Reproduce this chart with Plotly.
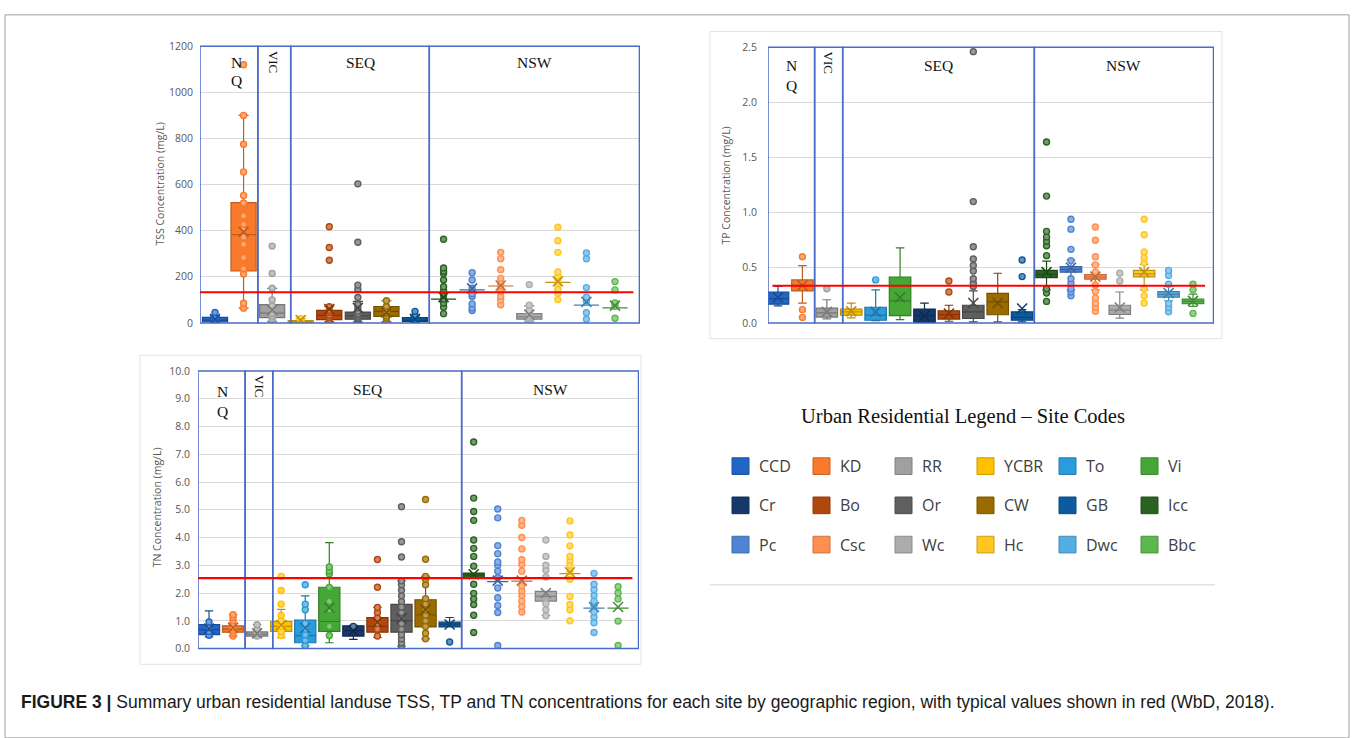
import plotly.graph_objects as go

W, H = 1356, 738

# ---------------- data ----------------
SITES = ["CCD", "KD", "RR", "YCBR", "To", "Vi", "Cr", "Bo", "Or", "CW", "GB",
         "Icc", "Pc", "Csc", "Wc", "Hc", "Dwc", "Bbc"]
SITE_REGION = ["NQ", "NQ", "VIC", "SEQ", "SEQ", "SEQ", "SEQ", "SEQ", "SEQ", "SEQ", "SEQ",
               "NSW", "NSW", "NSW", "NSW", "NSW", "NSW", "NSW"]
COLORS = ["#2166C4", "#F97A2B", "#A0A0A0", "#FFC000", "#2A9CDB", "#45A836",
          "#16386B", "#B0470C", "#5F5F5F", "#9A6B00", "#0E5A9E", "#2A6321",
          "#4E84D4", "#FF8F4F", "#ACACAC", "#FFC61E", "#55ADE6", "#5CB84E"]
REGIONS = ["NQ", "VIC", "SEQ", "NSW"]

# TSS (mg/L)
TSS_SITES = ["CCD", "KD", "RR", "YCBR", "Bo", "Or", "CW", "GB",
             "Icc", "Pc", "Csc", "Wc", "Hc", "Dwc", "Bbc"]
TSS_Q1 = [5, 225, 23, 3, 14, 16, 28, 7, 103, 143, 160, 16, 176, 77, 65]
TSS_MED = [12, 383, 42, 6, 33, 30, 50, 12, 103, 143, 160, 26, 176, 77, 65]
TSS_Q3 = [24, 522, 79, 10, 54, 47, 71, 23, 103, 143, 160, 40, 176, 77, 65]
TSS_LO = [3, 64, 7, 1, 4, 3, 4, 2, 103, 143, 160, 8, 176, 77, 65]
TSS_HI = [30, 900, 150, 18, 70, 93, 96, 30, 103, 143, 160, 74, 176, 77, 65]
TSS_MEAN = [17, 395, 56, 12, 60, 65, 45, 18, 112, 150, 162, 36, 180, 91, 75]
TSS_POINTS = [
    [3, 6, 9, 12, 16, 22, 28, 45],
    [64, 85, 212, 235, 283, 341, 372, 405, 428, 464, 520, 553, 655, 775, 900, 1120],
    [7, 18, 30, 42, 58, 75, 100, 150, 214, 333],
    [1, 3, 6, 9, 12, 18],
    [4, 14, 24, 33, 45, 54, 70, 272, 327, 417],
    [3, 10, 18, 25, 33, 40, 50, 65, 80, 110, 145, 164, 350, 603],
    [4, 20, 30, 42, 50, 62, 71, 96],
    [2, 5, 8, 12, 16, 22, 30, 50],
    [40, 68, 86, 103, 122, 140, 157, 186, 214, 224, 238, 363],
    [54, 65, 82, 115, 126, 150, 186, 218],
    [79, 100, 115, 136, 160, 172, 193, 231, 278, 306],
    [8, 16, 24, 32, 40, 55, 77, 166],
    [101, 129, 146, 170, 190, 203, 221, 306, 356, 415],
    [16, 44, 95, 111, 153, 278, 303],
    [20, 72, 86, 143, 179],
]
TSS_TYPICAL = 133

# TP (mg/L)
TP_SITES = SITES
TP_Q1 = [.17, .29, .053, .07, .024, .065, .005, .035, .04, .074, .024, .41, .46, .396, .077, .417, .233, .175]
TP_MED = [.22, .34, .09, .10, .07, .20, .065, .075, .10, .19, .05, .44, .485, .416, .115, .445, .258, .195]
TP_Q3 = [.28, .39, .134, .125, .142, .415, .125, .11, .16, .267, .10, .476, .51, .437, .16, .476, .284, .216]
TP_LO = [.155, .18, .036, .045, .02, .03, .005, .015, .01, .01, .01, .30, .30, .30, .044, .30, .20, .15]
TP_HI = [.33, .52, .21, .18, .30, .68, .18, .16, .29, .45, .12, .56, .57, .53, .28, .53, .33, .26]
TP_MEAN = [.23, .34, .10, .105, .10, .23, .065, .085, .18, .18, .13, .46, .50, .42, .14, .46, .27, .20]
TP_POINTS = [
    [], [.05, .12, .60], [.31], [], [.39], [], [], [.28, .38],
    [.33, .36, .40, .47, .52, .58, .69, 1.10, 2.46], [], [.42, .57],
    [.195, .27, .31, .61, .70, .74, .78, .83, 1.15, 1.64],
    [.245, .28, .31, .36, .40, .565, .667, .85, .94],
    [.106, .145, .18, .225, .284, .343, .46, .526, .60, .75, .87],
    [.38, .45],
    [.18, .245, .31, .545, .59, .644, .80, .94],
    [.10, .14, .175, .35, .43, .476],
    [.086, .30, .35],
]
TP_TYPICAL = 0.337

# TN (mg/L)
TN_SITES = SITES
TN_Q1 = [.50, .59, .45, .62, .21, .62, .45, .59, .59, .78, .78, 2.55, 2.41, 2.43, 1.71, 2.70, 1.46, 1.46]
TN_MED = [.68, .70, .52, .80, .47, .975, .65, .80, 1.01, 1.21, .88, 2.65, 2.41, 2.43, 1.88, 2.70, 1.46, 1.46]
TN_Q3 = [.86, .82, .60, .975, 1.03, 2.21, .82, 1.12, 1.59, 1.76, .95, 2.72, 2.41, 2.43, 2.06, 2.70, 1.46, 1.46]
TN_LO = [.42, .45, .42, .39, .10, .21, .33, .40, .09, .35, .78, 2.55, 2.41, 2.43, 1.20, 2.70, 1.46, 1.46]
TN_HI = [1.36, 1.22, .86, 1.41, 1.90, 3.82, .84, 1.48, 2.44, 2.60, 1.12, 2.72, 2.41, 2.43, 2.06, 2.70, 1.46, 1.46]
TN_MEAN = [.72, .75, .55, .85, .74, 1.47, .63, .95, 1.09, 1.41, .87, 2.68, 2.45, 2.45, 2.00, 2.75, 1.50, 1.50]
TN_POINTS = [
    [.48, .62, .75, .96],
    [.45, .55, .65, .75, .90, 1.00, 1.12, 1.22],
    [.45, .55, .70, .86],
    [.47, .62, .80, 1.00, 1.19, 1.60, 2.09, 2.60],
    [.10, .30, .50, .70, .90, 1.40, 1.60, 2.30],
    [.47, .80, 1.40, 1.70, 2.20, 2.70, 2.80, 2.94],
    [.80],
    [.45, .70, .90, 1.10, 1.30, 1.48, 2.21, 3.21],
    [.09, .20, .35, .50, .70, .90, 1.10, 1.30, 1.50, 1.70, 1.90, 2.10, 2.30, 2.44, 3.30, 3.85, 5.11],
    [.35, .55, .80, 1.00, 1.20, 1.40, 1.60, 1.80, 2.30, 2.50, 2.60, 3.22, 5.37],
    [.235],
    [.58, 1.20, 1.59, 1.79, 1.99, 2.32, 2.97, 3.32, 3.61, 3.91, 4.62, 4.94, 5.42, 7.44],
    [.11, 1.30, 1.55, 1.83, 2.18, 2.55, 2.79, 3.00, 3.12, 3.42, 3.71, 4.71, 5.03],
    [1.32, 1.52, 1.71, 1.91, 2.08, 2.26, 2.79, 3.03, 3.20, 3.59, 4.00, 4.44, 4.62],
    [1.18, 1.40, 1.62, 2.58, 2.83, 3.00, 3.32, 3.91],
    [1.00, 1.40, 1.59, 1.88, 2.50, 2.79, 3.00, 3.17, 3.32, 3.70, 4.09, 4.60],
    [.58, .93, 1.14, 1.32, 1.55, 1.71, 1.91, 2.12, 2.32, 2.71],
    [.11, .99, 1.79, 2.00, 2.23],
]
TN_TYPICAL = 2.54

Y_TITLES = ["TSS Concentration (mg/L)", "TP Concentration (mg/L)", "TN Concentration (mg/L)"]
LEGEND_TITLE = "Urban Residential Legend \u2013 Site Codes"
CAPTION_BOLD = "FIGURE 3 |"
CAPTION = " Summary urban residential landuse TSS, TP and TN concentrations for each site by geographic region, with typical values shown in red (WbD, 2018)."


# ---------------- helpers ----------------
def fx(px):
    return px / W


def fy(py):
    return 1 - py / H


def mix(hexc, other, t):
    a = [int(hexc[i:i + 2], 16) for i in (1, 3, 5)]
    b = [int(other[i:i + 2], 16) for i in (1, 3, 5)]
    c = [round(a[k] * (1 - t) + b[k] * t) for k in range(3)]
    return "#%02x%02x%02x" % tuple(c)


REGION_BLUE = "#4A6BC6"
GRID = "#D9D9D9"
TICK_COL = "#595959"

panels = [
    dict(sites=TSS_SITES, q1=TSS_Q1, med=TSS_MED, q3=TSS_Q3, lo=TSS_LO, hi=TSS_HI,
         mean=TSS_MEAN, pts=TSS_POINTS, typ=TSS_TYPICAL, ax="", px=(200, 640), py=(40, 322),
         yr=[0, 1200], dt=200, fmt="d", xr=[-0.525, 14.875], stand=6,
         title=Y_TITLES[0], title_xy=(160, 181), nq_y=(57, 75), nq_dx=0.25, lab_y=57, vic_y=43,
         typ_x=(0.0, 0.985)),
    dict(sites=TP_SITES, q1=TP_Q1, med=TP_MED, q3=TP_Q3, lo=TP_LO, hi=TP_HI,
         mean=TP_MEAN, pts=TP_POINTS, typ=TP_TYPICAL, ax="2", px=(768, 1214), py=(41, 322),
         yr=[0, 2.5], dt=0.5, fmt=".1f", xr=[-0.41, 17.86], stand=10,
         title=Y_TITLES[1], title_xy=(726, 182), nq_y=(60, 80), nq_dx=0.0, lab_y=60, vic_y=43,
         typ_x=(0.01, 0.98)),
    dict(sites=TN_SITES, q1=TN_Q1, med=TN_MED, q3=TN_Q3, lo=TN_LO, hi=TN_HI,
         mean=TN_MEAN, pts=TN_POINTS, typ=TN_TYPICAL, ax="3", px=(198, 639), py=(371, 654),
         yr=[0, 10], dt=1, fmt=".1f", xr=[-0.457, 17.87], stand=7,
         title=Y_TITLES[2], title_xy=(157, 510), nq_y=(392, 412), nq_dx=0.05, lab_y=390, vic_y=373,
         typ_x=(0.0, 0.985)),
]

fig = go.Figure()
shapes = []
annotations = []
layout_axes = {}

for p in panels:
    xa = "x" + p["ax"]
    ya = "y" + p["ax"]
    for i, s in enumerate(p["sites"]):
        col = COLORS[SITES.index(s)]
        dark = mix(col, "#000000", 0.25)
        light = mix(col, "#FFFFFF", 0.35)
        fig.add_trace(go.Box(
            x=[i], q1=[p["q1"][i]], median=[p["med"][i]], q3=[p["q3"][i]],
            lowerfence=[p["lo"][i]], upperfence=[p["hi"][i]],
            fillcolor=col, line=dict(color=dark, width=1.2), width=0.88,
            whiskerwidth=0.4, boxpoints=False, xaxis=xa, yaxis=ya,
            showlegend=False, name=s, hoverinfo="skip"))
        if p["pts"][i]:
            fig.add_trace(go.Scatter(
                x=[i] * len(p["pts"][i]), y=p["pts"][i], mode="markers",
                marker=dict(symbol="circle", size=6, color=light,
                            line=dict(color=col, width=1.4)),
                xaxis=xa, yaxis=ya, showlegend=False, hoverinfo="skip"))
        fig.add_trace(go.Scatter(
            x=[i], y=[p["mean"][i]], mode="markers",
            marker=dict(symbol="x-thin", size=10, line=dict(color=dark, width=1.6)),
            xaxis=xa, yaxis=ya, showlegend=False, hoverinfo="skip"))

    key = p["ax"]
    layout_axes["xaxis" + key] = dict(
        domain=[fx(p["px"][0]), fx(p["px"][1])], range=p["xr"], visible=False,
        anchor=ya, fixedrange=True)
    layout_axes["yaxis" + key] = dict(
        domain=[fy(p["py"][1]), fy(p["py"][0])], range=p["yr"], dtick=p["dt"],
        tickformat=p["fmt"], showgrid=True, gridcolor=GRID, gridwidth=1,
        zeroline=False, showline=False, ticks="", ticklabelstandoff=p["stand"],
        tickfont=dict(family="Open Sans", size=10.5, color=TICK_COL),
        anchor=xa, fixedrange=True)

    # region boxes
    regs = [SITE_REGION[SITES.index(s)] for s in p["sites"]]
    bounds = [p["xr"][0]]
    for r_i in range(len(REGIONS) - 1):
        last = max(i for i, r in enumerate(regs) if r == REGIONS[r_i])
        off = 0.15 if REGIONS[r_i] == "VIC" else 0.0
        bounds.append(last + 0.5 + off)
    bounds.append(p["xr"][1] - 0.02)
    for r_i, rname in enumerate(REGIONS):
        shapes.append(dict(type="rect", xref=xa, yref=ya + " domain",
                           x0=bounds[r_i], x1=bounds[r_i + 1], y0=0, y1=1,
                           line=dict(color=REGION_BLUE, width=1.5),
                           fillcolor="rgba(0,0,0,0)", layer="above"))
        cx = (bounds[r_i] + bounds[r_i + 1]) / 2
        serif = dict(family="Liberation Serif", size=15.5, color="#111111")
        if rname == "NQ":
            for letter, yy in zip(["N", "Q"], p["nq_y"]):
                annotations.append(dict(text=letter, x=cx + p["nq_dx"], xref=xa, y=fy(yy),
                                        yref="paper", showarrow=False, font=serif,
                                        xanchor="center", yanchor="middle"))
        elif rname == "VIC":
            annotations.append(dict(text="VIC", x=cx, xref=xa, y=fy(p["vic_y"]), yref="paper",
                                    showarrow=False, textangle=90,
                                    font=dict(family="Liberation Serif", size=13, color="#111111"),
                                    xanchor="center", yanchor="top"))
        else:
            annotations.append(dict(text=rname, x=cx, xref=xa, y=fy(p["lab_y"]), yref="paper",
                                    showarrow=False, font=serif, xanchor="center",
                                    yanchor="middle"))

    # typical value line
    shapes.append(dict(type="line", xref=xa + " domain", yref=ya,
                       x0=p["typ_x"][0], x1=p["typ_x"][1], y0=p["typ"], y1=p["typ"],
                       line=dict(color="#FF0000", width=2.2), layer="above"))

    # axis title
    annotations.append(dict(text=p["title"], x=fx(p["title_xy"][0]), y=fy(p["title_xy"][1]),
                            xref="paper", yref="paper", showarrow=False, textangle=-90,
                            font=dict(family="Open Sans", size=10.5, color=TICK_COL),
                            xanchor="center", yanchor="middle"))

# chart area frames
for (x0, y0, x1, y1) in [(710, 25, 1222, 338), (140, 355, 641, 670)]:
    shapes.append(dict(type="rect", xref="paper", yref="paper",
                       x0=fx(x0), x1=fx(x1), y0=fy(y1), y1=fy(y0),
                       line=dict(color="#E3E3E3", width=1), layer="below"))

# outer border
shapes.append(dict(type="rect", xref="paper", yref="paper",
                   x0=fx(5), x1=fx(1349), y0=fy(745), y1=fy(8),
                   line=dict(color="#A0A0A0", width=1), layer="below"))

# legend panel
annotations.append(dict(text=LEGEND_TITLE, x=fx(963), y=fy(417), xref="paper", yref="paper",
                        showarrow=False,
                        font=dict(family="Liberation Serif", size=20.5, color="#111111"),
                        xanchor="center", yanchor="middle"))
COL_X = [732, 813, 895, 977, 1059, 1141]
ROW_Y = [468, 508, 548]
for i, s in enumerate(SITES):
    cx0 = COL_X[i % 6]
    cy = ROW_Y[i // 6]
    col = COLORS[i]
    shapes.append(dict(type="rect", xref="paper", yref="paper",
                       x0=fx(cx0), x1=fx(cx0 + 17), y0=fy(cy + 8.5), y1=fy(cy - 8.5),
                       fillcolor=col, line=dict(color=mix(col, "#000000", 0.2), width=1)))
    annotations.append(dict(text=s, x=fx(cx0 + 25), y=fy(cy), xref="paper", yref="paper",
                            showarrow=False,
                            font=dict(family="Open Sans", size=16, color="#404040"),
                            xanchor="left", yanchor="middle"))
shapes.append(dict(type="line", xref="paper", yref="paper", x0=fx(710), x1=fx(1215),
                   y0=fy(589), y1=fy(589), line=dict(color="#D5D5D5", width=1)))

# caption
annotations.append(dict(text="<b>" + CAPTION_BOLD + "</b>" + CAPTION, x=fx(19), y=fy(708),
                        xref="paper", yref="paper", showarrow=False,
                        font=dict(family="Liberation Sans", size=17.5, color="#1a1a1a"),
                        xanchor="left", yanchor="middle"))

fig.update_layout(
    width=W, height=H, margin=dict(l=0, r=0, t=0, b=0),
    paper_bgcolor="white", plot_bgcolor="white", showlegend=False,
    boxmode="overlay", shapes=shapes, annotations=annotations, **layout_axes)

fig.write_html("out.html")
